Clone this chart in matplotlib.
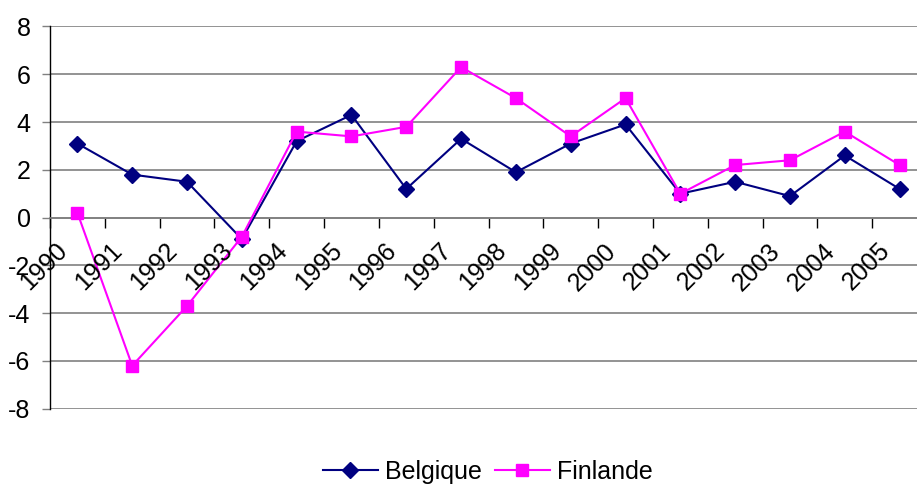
import matplotlib
matplotlib.use("Agg")
import matplotlib.pyplot as plt
import matplotlib.transforms as mtransforms
from matplotlib.lines import Line2D

plt.rcParams['font.family'] = ['Liberation Sans', 'DejaVu Sans']

years = ['1990', '1991', '1992', '1993', '1994', '1995', '1996', '1997',
         '1998', '1999', '2000', '2001', '2002', '2003', '2004', '2005']
belgique = [3.1, 1.8, 1.5, -0.9, 3.2, 4.3, 1.2, 3.3,
            1.9, 3.1, 3.9, 1.0, 1.5, 0.9, 2.6, 1.2]
finlande = [0.2, -6.2, -3.7, -0.8, 3.6, 3.4, 3.8, 6.3,
            5.0, 3.4, 5.0, 1.0, 2.2, 2.4, 3.6, 2.2]
y_ticks = [-8, -6, -4, -2, 0, 2, 4, 6, 8]

W, H = 917, 484
FS = 18
MS_D, MS_S = 8.2, 8.7
fig = plt.figure(figsize=(W / 100, H / 100), dpi=100)
# plot area runs slightly past the right edge of the figure
left, right, top, bottom = 50, 927, 26.5, 408.7
ax = fig.add_axes([left / W, 1 - bottom / H, (right - left) / W, (bottom - top) / H])

x = list(range(len(years)))
navy = '#000080'
magenta = '#FF00FF'
ax.plot(x, belgique, color=navy, lw=1.5, marker='D', ms=MS_D,
        markeredgecolor=navy, markerfacecolor=navy, zorder=3, clip_on=False)
ax.plot(x, finlande, color=magenta, lw=1.5, marker='s', ms=MS_S,
        markeredgecolor=magenta, markerfacecolor=magenta, zorder=3, clip_on=False)

ax.set_xlim(-0.5, len(years) - 0.5)
ax.set_ylim(-8, 8)
ax.set_yticks(y_ticks)
ax.set_yticklabels([str(v) for v in y_ticks], fontsize=FS)
ax.tick_params(axis='y', length=6, width=1, color='#808080', pad=8)
ax.yaxis.grid(True, color='#808080', lw=1.2)
ax.set_axisbelow(True)

# category axis crosses at zero, ticks between categories
ax.spines['top'].set_visible(False)
ax.spines['right'].set_visible(False)
ax.spines['left'].set_color('black')
ax.spines['left'].set_linewidth(1.0)
ax.spines['bottom'].set_position(('data', 0))
ax.spines['bottom'].set_color('#808080')
ax.spines['bottom'].set_linewidth(1.2)
ax.set_xticks([i - 0.5 for i in range(len(years) + 1)])
ax.set_xticklabels([])
ax.tick_params(axis='x', direction='out', length=7, width=1, color='black')

offset = mtransforms.ScaledTranslation(-5 / 100, -21 / 100, fig.dpi_scale_trans)
trans = mtransforms.blended_transform_factory(ax.transData, ax.transData) + offset
for i, yr in enumerate(years):
    ax.text(i, 0, yr, rotation=45, ha='right', va='top', fontsize=FS,
            transform=trans, clip_on=False)

handles = [
    Line2D([], [], color=navy, lw=1.5, marker='D', ms=MS_D, markerfacecolor=navy,
           markeredgecolor=navy),
    Line2D([], [], color=magenta, lw=1.5, marker='s', ms=MS_S,
           markerfacecolor=magenta, markeredgecolor=magenta),
]
fig.legend(handles, ['Belgique', 'Finlande'], loc='center',
           bbox_to_anchor=(488 / W, 1 - 472 / H), ncol=2, frameon=False,
           fontsize=FS, handlelength=2.2, handletextpad=0.3,
           columnspacing=0.5, borderpad=0, borderaxespad=0)

fig.savefig('out.png', dpi=100)
